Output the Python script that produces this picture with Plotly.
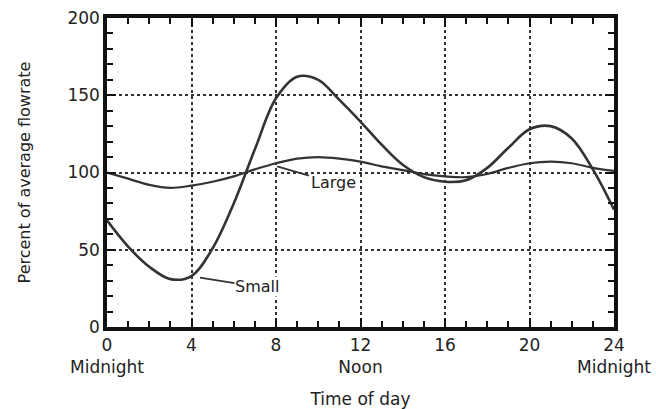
import plotly.graph_objects as go

hours = list(range(0, 25))
small = [69, 52, 39, 31, 33, 51, 80, 115, 148, 162, 160, 147, 133, 118, 105, 97, 94, 95, 103, 116, 128, 130, 122, 102, 76]
large = [100, 96, 92, 90, 91.5, 94, 97.5, 102, 106, 109, 110, 109, 107, 104, 101.5, 99, 97.5, 97, 99, 103, 106, 107, 106, 103, 101]

x_tickvals = [0, 4, 8, 12, 16, 20, 24]
x_ticktext = ["0<br>Midnight", "4", "8", "12<br>Noon", "16", "20", "24<br>Midnight"]
y_tickvals = [0, 50, 100, 150, 200]

FONT = "DejaVu Sans, Liberation Sans, Arial, sans-serif"
INK = "#222222"
LINE = "#333333"

fig = go.Figure()
fig.add_trace(go.Scatter(x=hours, y=large, mode="lines", name="Large",
                         line=dict(color=LINE, width=2.2, shape="spline", smoothing=1.0)))
fig.add_trace(go.Scatter(x=hours, y=small, mode="lines", name="Small",
                         line=dict(color=LINE, width=2.6, shape="spline", smoothing=1.0)))

fig.add_annotation(x=8.05, y=104, xref="x", yref="y", text="Large", showarrow=True,
                   axref="x", ayref="y", ax=10.7, ay=93.5,
                   arrowhead=0, arrowwidth=1.8, arrowcolor=LINE,
                   font=dict(family=FONT, size=16, color=INK))
fig.add_annotation(x=4.4, y=32, xref="x", yref="y", text="Small", showarrow=True,
                   axref="x", ayref="y", ax=7.1, ay=26,
                   arrowhead=0, arrowwidth=1.8, arrowcolor=LINE,
                   bgcolor="white", borderpad=0,
                   font=dict(family=FONT, size=16, color=INK))

axis_common = dict(
    showline=True, linecolor="#111111", linewidth=3.5, mirror="ticks",
    ticks="inside", tickcolor="#111111", ticklen=9, tickwidth=2,
    showgrid=True, gridcolor="#333333", griddash="dot", gridwidth=1.5,
    zeroline=False,
    tickfont=dict(family=FONT, size=17, color=INK),
)

fig.update_xaxes(range=[0, 24], tickvals=x_tickvals, ticktext=x_ticktext,
                 minor=dict(dtick=1, tick0=0, ticks="inside", ticklen=6, tickcolor="#111111", tickwidth=1.8, showgrid=False),
                 title=dict(text="Time of day", font=dict(family=FONT, size=17, color=INK), standoff=18),
                 automargin=False,
                 **axis_common)
fig.update_yaxes(range=[0, 200], tickvals=y_tickvals,
                 minor=dict(dtick=10, tick0=0, ticks="inside", ticklen=6, tickcolor="#111111", tickwidth=1.8, showgrid=False),
                 title=dict(text="Percent of average flowrate", font=dict(family=FONT, size=16, color=INK), standoff=34),
                 automargin=False,
                 **axis_common)

fig.update_layout(
    width=656, height=409,
    margin=dict(l=107, r=42, t=18, b=82),
    plot_bgcolor="white", paper_bgcolor="white",
    showlegend=False,
)

fig.write_html("out.html", config={"displayModeBar": False},
               post_script="document.body.style.margin='0';")
